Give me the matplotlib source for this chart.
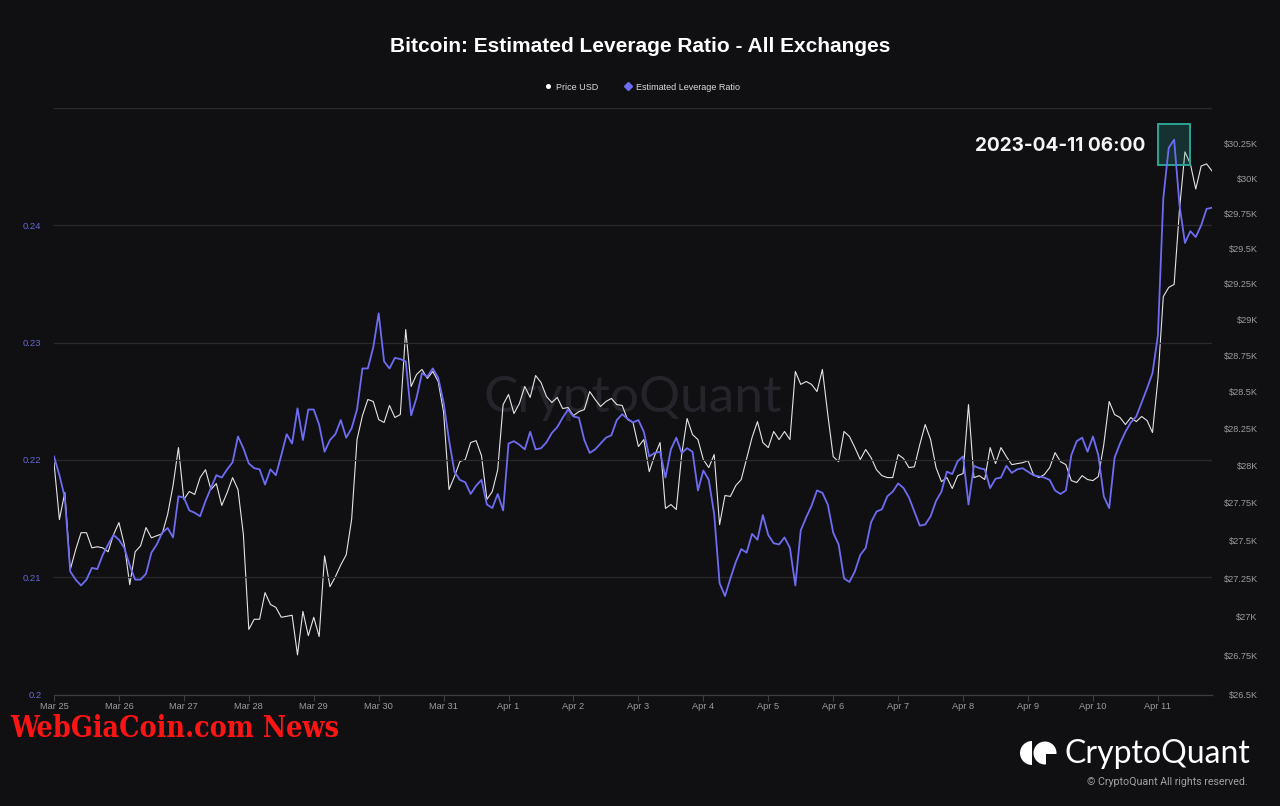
import matplotlib
matplotlib.use('Agg')
import matplotlib.pyplot as plt
import matplotlib.dates as mdates
import matplotlib.ticker as mticker
from matplotlib.lines import Line2D
from matplotlib.patches import Rectangle, Circle, Wedge, Polygon
from matplotlib import font_manager
import pandas as pd

# ---------------- data (2-hour samples, from 2023-03-25 00:00) ----------------
START = '2023-03-25 00:00'
FREQ = '2h'

leverage = [
    0.2203, 0.2187, 0.2168, 0.2105, 0.2098, 0.2093, 0.2098, 0.2108, 0.2107, 0.2119, 0.2128, 0.2136,
    0.2132, 0.2125, 0.2110, 0.2098, 0.2098, 0.2103, 0.2121, 0.2128, 0.2138, 0.2142, 0.2134, 0.2169,
    0.2168, 0.2157, 0.2155, 0.2152, 0.2165, 0.2176, 0.2187, 0.2185, 0.2192, 0.2198, 0.2220, 0.2210,
    0.2197, 0.2193, 0.2192, 0.2179, 0.2192, 0.2187, 0.2204, 0.2222, 0.2214, 0.2244, 0.2217, 0.2243,
    0.2243, 0.2230, 0.2207, 0.2217, 0.2222, 0.2234, 0.2219, 0.2227, 0.2243, 0.2278, 0.2278, 0.2296,
    0.2325, 0.2284, 0.2278, 0.2287, 0.2286, 0.2284, 0.2238, 0.2253, 0.2274, 0.2271, 0.2278, 0.2270,
    0.2249, 0.2217, 0.2190, 0.2183, 0.2181, 0.2171, 0.2178, 0.2183, 0.2162, 0.2159, 0.2171, 0.2157,
    0.2214, 0.2216, 0.2213, 0.2209, 0.2224, 0.2209, 0.2210, 0.2215, 0.2223, 0.2228, 0.2236, 0.2243,
    0.2237, 0.2236, 0.2217, 0.2206, 0.2209, 0.2214, 0.2219, 0.2221, 0.2234, 0.2239, 0.2235, 0.2232,
    0.2234, 0.2224, 0.2203, 0.2206, 0.2207, 0.2185, 0.2209, 0.2219, 0.2206, 0.2210, 0.2207, 0.2174,
    0.2191, 0.2183, 0.2154, 0.2095, 0.2084, 0.2099, 0.2113, 0.2124, 0.2121, 0.2137, 0.2132, 0.2153,
    0.2136, 0.2129, 0.2128, 0.2134, 0.2125, 0.2093, 0.2140, 0.2151, 0.2161, 0.2174, 0.2172, 0.2162,
    0.2138, 0.2128, 0.2099, 0.2096, 0.2105, 0.2119, 0.2125, 0.2147, 0.2156, 0.2158, 0.2169, 0.2173,
    0.2180, 0.2176, 0.2168, 0.2156, 0.2144, 0.2145, 0.2152, 0.2165, 0.2173, 0.2190, 0.2188, 0.2199,
    0.2203, 0.2162, 0.2195, 0.2193, 0.2192, 0.2176, 0.2184, 0.2185, 0.2195, 0.2189, 0.2192, 0.2193,
    0.2190, 0.2187, 0.2186, 0.2185, 0.2183, 0.2174, 0.2171, 0.2174, 0.2204, 0.2216, 0.2219, 0.2207,
    0.2220, 0.2204, 0.2169, 0.2159, 0.2202, 0.2214, 0.2224, 0.2232, 0.2237, 0.2249, 0.2261, 0.2274,
    0.2306, 0.2423, 0.2466, 0.2473, 0.2417, 0.2385, 0.2395, 0.2390, 0.2400, 0.2414, 0.2415,
]

price = [
    28018, 27638, 27819, 27307, 27438, 27551, 27551, 27451, 27458, 27451, 27425, 27538,
    27618, 27471, 27209, 27425, 27464, 27585, 27517, 27531, 27544, 27672, 27865, 28120,
    27772, 27825, 27805, 27918, 27971, 27838, 27878, 27732, 27818, 27918, 27838, 27538,
    26918, 26984, 26984, 27157, 27080, 27061, 26997, 27003, 27010, 26754, 27035, 26878,
    26997, 26872, 27398, 27196, 27261, 27339, 27405, 27638, 28174, 28337, 28447, 28433,
    28310, 28290, 28406, 28324, 28344, 28929, 28536, 28618, 28653, 28591, 28639, 28570,
    28358, 27838, 27925, 28025, 28039, 28154, 28167, 28066, 27772, 27825, 27971, 28412,
    28481, 28351, 28419, 28536, 28461, 28611, 28563, 28468, 28426, 28461, 28385, 28392,
    28337, 28364, 28378, 28501, 28447, 28399, 28433, 28454, 28412, 28406, 28310, 28290,
    28127, 28174, 27958, 28066, 28154, 27712, 27738, 27705, 28073, 28317, 28208, 28174,
    28039, 27985, 28073, 27604, 27798, 27792, 27865, 27905, 28046, 28188, 28296, 28154,
    28120, 28229, 28174, 28229, 28174, 28639, 28550, 28570, 28550, 28501, 28653, 28344,
    28059, 28025, 28229, 28195, 28120, 28039, 28107, 28052, 27971, 27931, 27918, 27918,
    28073, 28046, 27985, 27991, 28140, 28276, 28174, 27985, 27891, 27918, 27845, 27931,
    27945, 28412, 27918, 27931, 27905, 28120, 28012, 28120, 28059, 28005, 28012, 28018,
    28032, 27938, 27918, 27938, 27985, 28086, 28025, 28005, 27898, 27885, 27931, 27905,
    27898, 27925, 28140, 28433, 28344, 28324, 28276, 28324, 28296, 28331, 28303, 28222,
    28584, 29159, 29223, 29244, 29779, 30190, 30103, 29922, 30088, 30103, 30052,
]

lev_ticks = [0.20, 0.21, 0.22, 0.23, 0.24, 0.25]
lev_labels = ['0.2', '0.21', '0.22', '0.23', '0.24', '']
price_ticks = [26500, 26750, 27000, 27250, 27500, 27750, 28000, 28250, 28500,
               28750, 29000, 29250, 29500, 29750, 30000, 30250]
highlight_time = '2023-04-11 06:00'
title = 'Bitcoin: Estimated Leverage Ratio - All Exchanges'
series_names = ['Price USD', 'Estimated Leverage Ratio']

# ---------------- styling ----------------
BG = '#101013'
BLUE = '#6d6cf2'
WHITE = '#e4e4e4'
GRID = '#29292e'
TXT = '#9b9ba0'
plt.rcParams['font.family'] = ['Liberation Sans', 'DejaVu Sans']

times = pd.date_range(START, periods=len(leverage), freq=FREQ)

W, H = 1280, 806
fig = plt.figure(figsize=(W / 100, H / 100), dpi=100, facecolor=BG)
L, R, T, B = 54, 1212, 108, 694.6
ax = fig.add_axes([L / W, 1 - B / H, (R - L) / W, (B - T) / H])
ax2 = ax.twinx()
ax.set_zorder(ax2.get_zorder() + 1)
ax.patch.set_visible(False)
ax2.patch.set_visible(True)
ax2.patch.set_facecolor(BG)

# price (right, log scale)
ax2.plot(times, price, color=WHITE, lw=0.8, zorder=3)
ax2.set_yscale('log')
ax2.set_ylim(26500, 30510)
ax2.yaxis.set_major_locator(mticker.FixedLocator(price_ticks))
ax2.yaxis.set_minor_locator(mticker.NullLocator())
ax2.yaxis.set_major_formatter(mticker.FuncFormatter(lambda v, p: f'${v / 1000:g}K'))
ax2.yaxis.set_minor_formatter(mticker.NullFormatter())
ax2.tick_params(axis='y', length=0, pad=33, labelsize=6.6, labelcolor=TXT)
for lbl in ax2.get_yticklabels():
    lbl.set_horizontalalignment('right')
for s in ax2.spines.values():
    s.set_visible(False)

# watermark
ax2.text(0.5, 0.505, 'CryptoQuant', transform=ax2.transAxes, ha='center', va='center',
         fontsize=37, color='#24242a', family='Lato', zorder=1)

# leverage (left)
ax.plot(times, leverage, color=BLUE, lw=1.3, zorder=4)
ax.set_ylim(0.2, 0.25)
ax.set_yticks(lev_ticks)
ax.set_yticklabels(lev_labels)
ax.tick_params(axis='y', length=0, pad=9, labelsize=6.8, labelcolor='#6867d8')
ax.yaxis.grid(True, color=GRID, lw=0.9)
ax.set_xlim(times[0], times[-1])
ax.xaxis.set_major_locator(mdates.DayLocator())
ax.xaxis.set_major_formatter(mdates.DateFormatter('%b %-d'))
ax.tick_params(axis='x', length=4, width=0.8, color='#3d3d44', labelsize=6.7,
               labelcolor=TXT, pad=1.5)
for k, s in ax.spines.items():
    s.set_visible(k == 'bottom')
ax.spines['bottom'].set_color('#3d3d44')
ax.spines['bottom'].set_linewidth(0.9)

# highlight box + label
hl = pd.Timestamp(highlight_time)
x0 = mdates.date2num(hl - pd.Timedelta(hours=6))
x1 = mdates.date2num(hl + pd.Timedelta(hours=6))
ax.add_patch(Rectangle((x0, 0.2451), x1 - x0, 0.0035, facecolor=(0.17, 0.66, 0.60, 0.22),
                       edgecolor='#2aa596', lw=1.4, zorder=3))
ax.annotate(hl.strftime('%Y-%m-%d %H:%M'), xy=(x0, 0.2468), xytext=(-9, 0),
            textcoords='offset points', ha='right', va='center', fontsize=13.7,
            fontweight='bold', color='#f4f4f4', family='Inter', zorder=6)

# title + legend
fig.text(0.5, 1 - 47 / H, title, ha='center', va='center', fontsize=15,
         fontweight='bold', color='white')
handles = [Line2D([], [], ls='none', marker='o', ms=2.6, color='white'),
           Line2D([], [], ls='none', marker='D', ms=4.2, color=BLUE)]
fig.legend(handles, series_names, loc='center', bbox_to_anchor=(0.5 + 3 / W, 1 - 87 / H),
           ncol=2, frameon=False, fontsize=6.5, labelcolor='#dcdcdc', handlelength=0.5,
           handletextpad=0.7, columnspacing=3.0)

# bottom-left overlay text (condensed slab face if available, fitted to width)
red_fp = font_manager.FontProperties(family='DejaVu Serif', weight='bold', stretch='condensed')
red = fig.text(10 / W, 1 - 737 / H, 'WebGiaCoin.com News', ha='left', va='baseline',
               fontproperties=red_fp, fontsize=27, color='#ff1414')

# bottom-right logo
lax = fig.add_axes([1015 / W, 1 - 770 / H, 45 / W, 34 / H])
lax.set_xlim(1015, 1060)
lax.set_ylim(770, 736)
lax.axis('off')
lax.add_patch(Wedge((1032, 753), 12, 90, 270, facecolor='white', edgecolor='none'))
lax.add_patch(Circle((1045, 753), 11.5, facecolor='white', edgecolor='none'))
lax.add_patch(Polygon([(1046, 754), (1058, 754), (1058, 766), (1046, 766)],
                      closed=True, facecolor=BG, edgecolor='none'))
lax.add_patch(Wedge((1046, 754), 5, 270, 360, facecolor='white', edgecolor='none'))
fig.text(1065 / W, 1 - 763 / H, 'CryptoQuant', ha='left', va='baseline', fontsize=23,
         color='white', family='Lato')
fig.text(1248 / W, 1 - 785 / H, '\u00a9 CryptoQuant All rights reserved.', ha='right',
         va='baseline', fontsize=7.7, color='#a2a2a6', family='Roboto')

# fit overlay text width to the reference (~330 px)
renderer = fig.canvas.get_renderer()
w = red.get_window_extent(renderer).width
if w > 332:
    red.set_fontsize(27 * 330 / w)

fig.savefig('out.png', dpi=100, facecolor=BG)
